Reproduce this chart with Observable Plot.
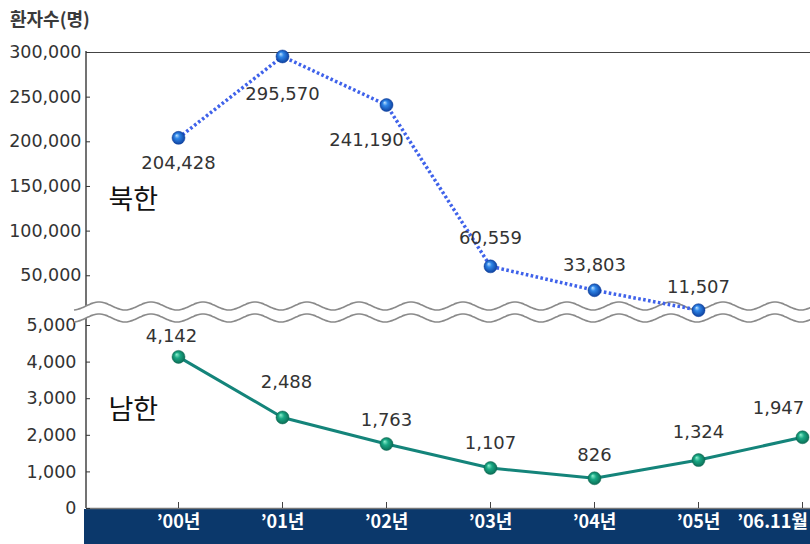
<!DOCTYPE html>
<html><head><meta charset="utf-8">
<script src="https://cdn.jsdelivr.net/npm/d3@7"></script>
<script src="https://cdn.jsdelivr.net/npm/@observablehq/plot@0.6"></script>
<style>
body{margin:0;background:#fff;}
#wrap{position:relative;width:810px;height:544px;overflow:hidden;}
#title{position:absolute;left:10px;top:5px;font-family:"Noto Sans CJK KR";font-size:18px;font-weight:700;color:#3a3a3a;}
#wrap svg{position:absolute;left:0;top:0;}
</style></head><body>
<div id="wrap"><div id="title">환자수(명)</div></div>
<script>
// ---- data ----
const years = ["’00년","’01년","’02년","’03년","’04년","’05년","’06.11월"];
const northYears = ["’00년","’01년","’02년","’03년","’04년","’05년"];
const northValues = [204428,295570,241190,60559,33803,11507];
const southValues = [4142,2488,1763,1107,826,1324,1947];
const yTicksLow = [0,1000,2000,3000,4000,5000];
const yTicksHigh = [50000,100000,150000,200000,250000,300000];
const seriesNames = ["북한","남한"];

// label placement (style only)
const northOffsets = [[0,25],[0,38],[-20,35],[0,-28],[0,-25],[0,-23]];
const southOffsets = [[-7,-21],[4,-35],[0,-24],[0,-25],[0,-23],[0,-28],[-24,-29]];

const north = northYears.map((x,i)=>({x, v:northValues[i]}));
const south = years.map((x,i)=>({x, v:southValues[i]}));
const fmt = d3.format(",");
const numFont = "DejaVu Sans";
const krFont = "Noto Sans CJK KR";

const defs = () => {
  const d = d3.create("svg:defs");
  const g1 = d.append("radialGradient").attr("id","gBlue").attr("cx","50%").attr("cy","50%").attr("r","55%").attr("fx","35%").attr("fy","30%");
  g1.append("stop").attr("offset","0%").attr("stop-color","#bfe3ff");
  g1.append("stop").attr("offset","35%").attr("stop-color","#2f86e8");
  g1.append("stop").attr("offset","100%").attr("stop-color","#0a3a98");
  const g2 = d.append("radialGradient").attr("id","gTeal").attr("cx","50%").attr("cy","50%").attr("r","55%").attr("fx","35%").attr("fy","30%");
  g2.append("stop").attr("offset","0%").attr("stop-color","#8ff0cf");
  g2.append("stop").attr("offset","40%").attr("stop-color","#19a884");
  g2.append("stop").attr("offset","100%").attr("stop-color","#0a6650");
  return d.node();
};

const band = (index, scales, values, dim) => {
  const g = d3.create("svg:g");
  g.append("rect").attr("x", dim.marginLeft - 2).attr("y", dim.height - dim.marginBottom + 1)
    .attr("width", dim.width - dim.marginLeft + 2).attr("height", dim.marginBottom)
    .attr("fill", "#0b386b");
  g.append("line").attr("x1", dim.marginLeft).attr("x2", dim.marginLeft)
    .attr("y1", dim.marginTop).attr("y2", dim.height - dim.marginBottom)
    .attr("stroke", "#444").attr("stroke-width", 1.5);
  return g.node();
};

const waves = (index, scales, values, dim) => {
  const g = d3.create("svg:g");
  const cTop = scales.y(10000) - 5, cBot = scales.y(5000) - 7, A = 4, P = 52;
  const xs = d3.range(dim.marginLeft - 12, dim.width + 4, 2);
  const f = (c) => xs.map(x => [x, c + A * Math.sin(2 * Math.PI * (x - 60) / P)]);
  const top = f(cTop), bot = f(cBot);
  const line = d3.line().curve(d3.curveBasis);
  const poly = top.concat(bot.slice().reverse());
  g.append("path").attr("d", d3.line()(poly) + "Z").attr("fill", "white");
  g.append("path").attr("d", line(top)).attr("fill", "none").attr("stroke", "#8a8a8a").attr("stroke-width", 1.6);
  g.append("path").attr("d", line(bot)).attr("fill", "none").attr("stroke", "#8a8a8a").attr("stroke-width", 1.6);
  return g.node();
};

const xLabelStyle = {tickSize: 0, tickPadding: 7, fontSize: 18, fontWeight: "bold", fontFamily: krFont, color: "white", label: null};

const chart = Plot.plot({
  width: 810,
  height: 544,
  marginTop: 51,
  marginLeft: 86,
  marginRight: 0,
  marginBottom: 36,
  style: {background: "transparent", overflow: "visible"},
  x: {type: "point", domain: years, range: [177, 803], padding: 0, label: null},
  y: {type: "linear", domain: [0, 5000, 10000, 300000], range: [508, 325, 311, 52], label: null},
  marks: [
    defs,
    band,
    Plot.ruleY([0], {stroke: "#777", strokeWidth: 1.5}),
    Plot.ruleY([300000], {stroke: "#444", strokeWidth: 1.2}),
    Plot.axisY({ticks: yTicksHigh, tickFormat: fmt, tickSize: 4, dx: 4, tickPadding: 5, fontSize: 17.5, fontFamily: numFont, color: "#333", label: null}),
    Plot.axisY({ticks: yTicksLow, tickFormat: fmt, tickSize: 4, dx: 4, tickPadding: 10, fontSize: 17.5, fontFamily: numFont, color: "#333", label: null}),
    Plot.axisX({tickSize: 6, dy: -6, tickFormat: () => "", stroke: "#444", label: null}),
    Plot.axisX({...xLabelStyle, ticks: years.slice(0, 6)}),
    Plot.axisX({...xLabelStyle, ticks: years.slice(6), dx: -30}),
    waves,
    Plot.line(north, {x: "x", y: "v", stroke: "#3f62ea", strokeWidth: 3.5, strokeDasharray: "2.6,2.4", strokeLinecap: "butt"}),
    Plot.line(south, {x: "x", y: "v", stroke: "#14847a", strokeWidth: 3}),
    Plot.dot(north, {x: "x", y: "v", r: 6.5, fill: "url(#gBlue)", stroke: "#0a3a98", strokeWidth: 0.5}),
    Plot.dot(south, {x: "x", y: "v", r: 6.5, fill: "url(#gTeal)", stroke: "#0a6650", strokeWidth: 0.5}),
    ...north.map((d, i) => Plot.text([d], {x: "x", y: "v", text: d => fmt(d.v), dx: northOffsets[i][0], dy: northOffsets[i][1], fontSize: 18, fontFamily: numFont, fill: "#333"})),
    ...south.map((d, i) => Plot.text([d], {x: "x", y: "v", text: d => fmt(d.v), dx: southOffsets[i][0], dy: southOffsets[i][1], fontSize: 18, fontFamily: numFont, fill: "#333"})),
    Plot.text([seriesNames[0]], {frameAnchor: "top-left", dx: 22, dy: 149, textAnchor: "start", lineAnchor: "middle", fontSize: 27, fontFamily: krFont, fill: "#111"}),
    Plot.text([seriesNames[1]], {frameAnchor: "top-left", dx: 22, dy: 359, textAnchor: "start", lineAnchor: "middle", fontSize: 27, fontFamily: krFont, fill: "#111"})
  ]
});
document.getElementById("wrap").prepend(chart);
</script>
</body></html>
